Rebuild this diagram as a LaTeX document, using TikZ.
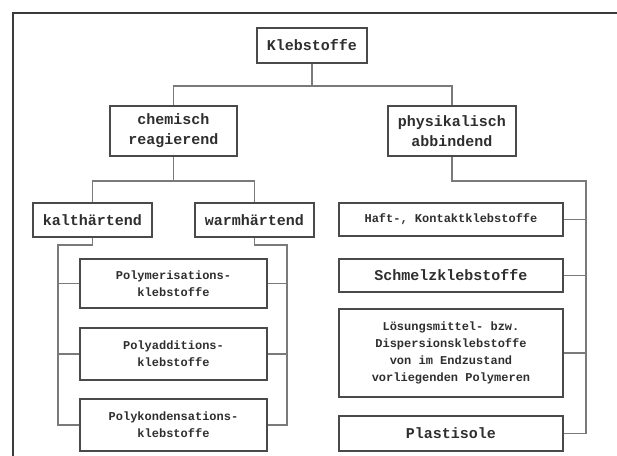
\documentclass[tikz,border=0pt]{standalone}
\usepackage{fontspec}
\newfontfamily\plotter{Liberation Mono}
\definecolor{rahmen}{HTML}{3A3A3A}
\definecolor{kastenrand}{HTML}{4A4A4A}
\definecolor{linie}{HTML}{7A7A7A}
\definecolor{schrift}{HTML}{2E2E2E}
\def\gross{\plotter\bfseries\fontsize{7.5}{10}\selectfont}
\def\klein{\plotter\bfseries\fontsize{6}{8.5}\selectfont}

\begin{document}
\begin{tikzpicture}[x=0.5pt, y=-0.5pt,
    kasten/.style={draw=kastenrand, line width=1pt, inner sep=0pt, align=center, text=schrift},
    ast/.style={draw=linie, line width=0.6pt}]
    \useasboundingbox (0,0) rectangle (617,456);
    % Rahmen.
    \draw[rahmen, line width=1pt] (13,456) -- (13,13) -- (617,13);
    % Oberste Ebenen.
    \node[kasten, font=\gross, minimum width=55pt, minimum height=17.5pt] (kleb) at (312,45.5) {Klebstoffe};
    \node[kasten, font=\gross, minimum width=63.5pt, minimum height=25pt] (chem) at (173.5,131) {chemisch\\reagierend};
    \node[kasten, font=\gross, minimum width=64pt, minimum height=25pt] (phys) at (452,131) {physikalisch\\abbindend};
    \node[kasten, font=\gross, minimum width=59.5pt, minimum height=17pt] (kalt) at (92.5,220) {kalthärtend};
    \node[kasten, font=\gross, minimum width=59.5pt, minimum height=17pt] (warm) at (254.5,220) {warmhärtend};
    % Chemisch reagierende Klebstoffe.
    \node[kasten, font=\klein, minimum width=93.5pt, minimum height=24.5pt] (pmer) at (173.5,283.5) {Polymerisations-\\klebstoffe};
    \node[kasten, font=\klein, minimum width=93.5pt, minimum height=26pt] (padd) at (173.5,354) {Polyadditions-\\klebstoffe};
    \node[kasten, font=\klein, minimum width=93.5pt, minimum height=26pt] (pkon) at (173.5,425) {Polykondensations-\\klebstoffe};
    % Physikalisch abbindende Klebstoffe.
    \node[kasten, font=\klein, minimum width=112pt, minimum height=16.5pt] (haft) at (451,219.5) {Haft-, Kontaktklebstoffe};
    \node[kasten, font=\gross, minimum width=112pt, minimum height=16.5pt] (schm) at (451,275.5) {Schmelzklebstoffe};
    \node[kasten, font=\klein, minimum width=112pt, minimum height=44pt] (loes) at (451,353) {Lösungsmittel- bzw.\\Dispersionsklebstoffe\\von im Endzustand\\vorliegenden Polymeren};
    \node[kasten, font=\gross, minimum width=112pt, minimum height=17.5pt] (plas) at (451,433.5) {Plastisole};
    % Verbindungen.
    \coordinate (k1) at (312,86);
    \draw[ast] (kleb.south) -- (k1);
    \draw[ast] (chem.north) |- (k1) -| (phys.north);
    \coordinate (k2) at (173.5,181);
    \draw[ast] (chem.south) -- (k2);
    \draw[ast] (kalt.north) |- (k2) -| (warm.north);
    \coordinate (k3) at (586,181);
    \draw[ast] (phys.south) |- (k3) |- (plas.east);
    \foreach \n in {haft,schm,loes}
        \draw[ast] (\n.east) -- (\n.east -| k3);
    \coordinate (k4) at (58,245);
    \coordinate (k5) at (287,245);
    \draw[ast] (kalt.south) |- (k4) |- (pkon.west);
    \draw[ast] (warm.south) |- (k5) |- (pkon.east);
    \foreach \n in {pmer,padd} {
        \draw[ast] (\n.west) -- (\n.west -| k4);
        \draw[ast] (\n.east) -- (\n.east -| k5);
    }
\end{tikzpicture}
\end{document}
